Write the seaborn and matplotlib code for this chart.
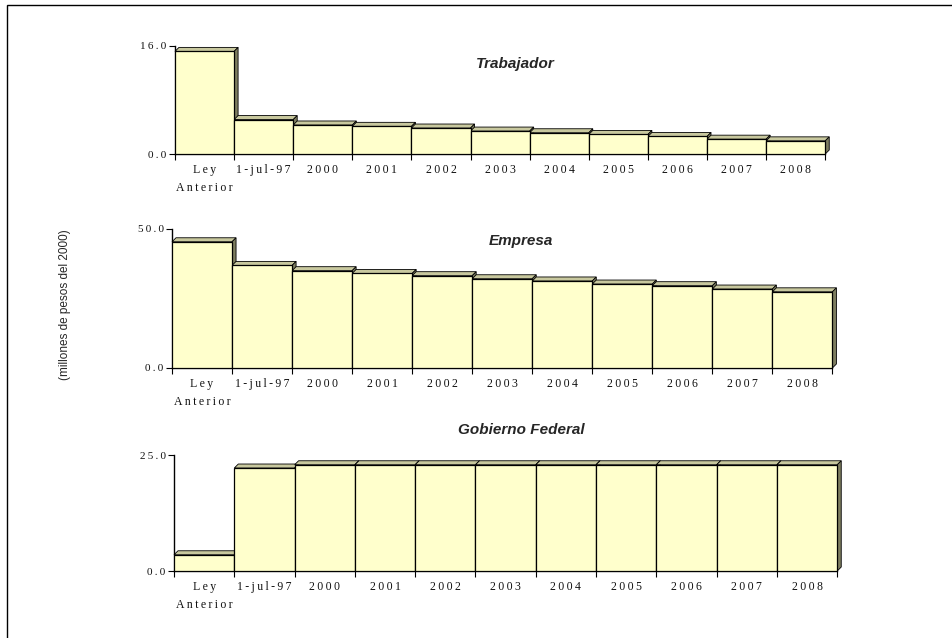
import matplotlib
matplotlib.use("Agg")
import matplotlib.pyplot as plt
import seaborn as sns
from matplotlib.patches import Rectangle

# datos (millones de pesos del 2000)
categorias = ["Ley\nAnterior", "1-jul-97", "2000", "2001", "2002", "2003",
              "2004", "2005", "2006", "2007", "2008"]
trabajador = [15.2, 5.1, 4.3, 4.1, 3.85, 3.4, 3.15, 2.9, 2.6, 2.2, 1.95]
empresa = [45.4, 36.9, 35.0, 34.0, 33.2, 32.1, 31.3, 30.2, 29.6, 28.4, 27.4]
gobierno = [3.5, 22.2, 22.9, 22.9, 22.9, 22.9, 22.9, 22.9, 22.9, 22.9, 22.9]

paneles = [
    ("Trabajador", trabajador, 16.0, [0.1836, 0.7586, 0.6873, 0.1693], (0.52, 0.83)),
    ("Empresa", empresa, 50.0, [0.1805, 0.4232, 0.6980, 0.2179], (0.525, 0.91)),
    ("Gobierno Federal", gobierno, 25.0, [0.1826, 0.1050, 0.7010, 0.1818], (0.52, 1.215)),
]

FRENTE = "#FFFFCC"
TAPA = "#C8C89E"
LADO = "#7E7E60"

sns.set_style("white")
plt.rcParams["font.family"] = ["Liberation Serif", "DejaVu Serif"]

fig = plt.figure(figsize=(9.53, 6.38), dpi=100)


def espaciar(txt):
    # imitar el espaciado entre letras del original
    return "\n".join("\u2009".join(linea) for linea in txt.split("\n"))


for titulo, valores, ymax, pos, tpos in paneles:
    ax = fig.add_axes(pos)
    n = len(valores)
    sns.barplot(x=list(range(n)), y=valores, ax=ax, color=FRENTE, saturation=1,
                width=1.0, edgecolor="black", linewidth=0.9, zorder=3)

    # profundidad (efecto 3D) en unidades de datos, a partir de pixeles
    w_px = pos[2] * 953
    h_px = pos[3] * 638
    xmax = n - 0.5 + 0.08
    dx = 4.0 / (w_px / (xmax + 0.5))
    dy = 4.0 / (h_px / ymax)
    for i, h in enumerate(valores):
        x0, x1 = i - 0.5, i + 0.5
        ax.fill([x0, x0 + dx, x1 + dx, x1], [h, h + dy, h + dy, h],
                color=TAPA, ec="black", lw=0.6, zorder=1, clip_on=False)
        ax.fill([x1, x1 + dx, x1 + dx, x1], [0, dy, h + dy, h],
                color=LADO, ec="black", lw=0.6, zorder=1, clip_on=False)

    ax.set_xlim(-0.5, xmax)
    ax.set_ylim(0, ymax)
    sns.despine(ax=ax)
    ax.spines["bottom"].set_bounds(-0.5, n - 0.5)
    for lado in ["left", "bottom"]:
        ax.spines[lado].set_linewidth(1.0)
        ax.spines[lado].set_color("black")

    ax.set_xticks([i - 0.5 for i in range(n + 1)])
    ax.set_xticklabels([])
    ax.set_xticks(range(n), minor=True)
    ax.set_xticklabels([espaciar(c) for c in categorias], minor=True,
                       fontsize=8.5, linespacing=1.6, va="top", color="#111111")
    ax.tick_params(axis="x", which="major", direction="out", length=4,
                   width=0.8, color="black", bottom=True)
    ax.tick_params(axis="x", which="minor", length=0, pad=7.5, bottom=True)
    ax.set_yticks([0, ymax])
    ax.set_yticklabels([espaciar(f"{v:.1f}") for v in [0, ymax]], fontsize=8,
                       color="#111111")
    ax.tick_params(axis="y", direction="out", length=4, width=0.8,
                   color="black", left=True, pad=2)
    ax.set_xlabel("")
    ax.set_ylabel("")

    ax.text(tpos[0], tpos[1], titulo, transform=ax.transAxes, ha="center",
            va="center", fontsize=11, fontweight="bold", fontstyle="italic",
            family=["Liberation Sans", "DejaVu Sans"])

fig.text(0.068, 0.522, "(millones de pesos del 2000)", rotation=90,
         ha="center", va="center", fontsize=8.5,
         family=["Liberation Sans", "DejaVu Sans"])

# marco (solo se ven los bordes superior e izquierdo)
fig.patches.append(Rectangle((0.0075, -0.1), 1.2, 1.092, transform=fig.transFigure,
                             fill=False, ec="black", lw=1.0))

fig.savefig("out.png", dpi=100)
